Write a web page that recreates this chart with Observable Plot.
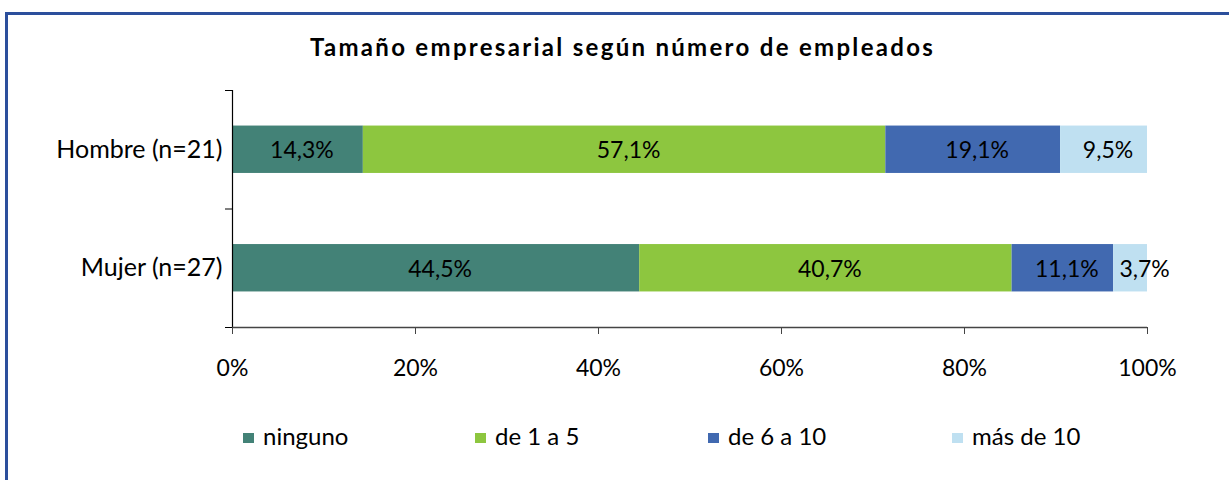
<!DOCTYPE html>
<html>
<head>
<meta charset="utf-8">
<script src="https://cdn.jsdelivr.net/npm/d3@7"></script>
<script src="https://cdn.jsdelivr.net/npm/@observablehq/plot@0.6"></script>
<style>
  html, body { margin: 0; padding: 0; background: #fff; }
  #wrap { position: relative; width: 1229px; height: 480px; overflow: hidden; font-family: Lato, "Noto Sans", sans-serif; color: #000; }
  #frame { position: absolute; left: 5px; top: 12px; width: 1240px; height: 520px; border: 3px solid #2c4f9c; box-sizing: border-box; }
  #title { position: absolute; left: 0; top: 32px; width: 1245px; text-align: center; font-weight: 700; font-size: 24px; letter-spacing: 2.3px; white-space: nowrap; }
  #chart { position: absolute; left: 0; top: 0; }
  .item { position: absolute; top: 423px; font-size: 24px; line-height: 26px; white-space: nowrap; }
  .sw { position: absolute; left: 0; top: 10px; width: 11px; height: 10px; }
  .lab { position: absolute; left: 20px; top: 0; }
</style>
</head>
<body>
<div id="wrap">
  <div id="frame"></div>
  <div id="title"></div>
  <div id="chart"></div>
  <div id="legend"></div>
</div>
<script>
const titleText = "Tamaño empresarial según número de empleados";
const groups = ["Hombre (n=21)", "Mujer (n=27)"];
const categories = ["ninguno", "de 1 a 5", "de 6 a 10", "más de 10"];
const hombre = [14.3, 57.1, 19.1, 9.5];
const mujer = [44.5, 40.7, 11.1, 3.7];
const colors = ["#438277", "#8dc63f", "#4169b0", "#bfe0f1"];
const xTicks = [0, 20, 40, 60, 80, 100];

const series = [hombre, mujer];
const rows = [];
series.forEach((vals, gi) => {
  let acc = 0;
  vals.forEach((v, ci) => {
    rows.push({
      gi, group: groups[gi], cat: categories[ci], value: v,
      x1: acc, x2: acc + v,
      label: v.toFixed(1).replace(".", ",") + "%"
    });
    acc += v;
  });
});

const fmtPct = d => d + "%";

const chart = Plot.plot({
  width: 1229,
  height: 480,
  marginLeft: 232,
  marginRight: 82,
  marginTop: 90,
  marginBottom: 153,
  style: { fontFamily: "Lato, 'Noto Sans', sans-serif", fontSize: "23px", color: "#000", background: "transparent" },
  x: { domain: [0, 100] },
  y: { domain: [0, 2], reverse: true },
  color: { domain: categories, range: colors },
  marks: [
    Plot.rect(rows, {
      x1: "x1", x2: "x2",
      y1: d => d.gi + 0.3, y2: d => d.gi + 0.7,
      fill: "cat"
    }),
    Plot.text(rows.filter(d => d.value >= 5), {
      x: d => (d.x1 + d.x2) / 2, y: d => d.gi + 0.5,
      text: "label", fill: "#000", fontSize: 23, dx: 4, dy: 1
    }),
    Plot.text(rows.filter(d => d.value < 5), {
      x: d => (d.x1 + d.x2) / 2, y: d => d.gi + 0.5,
      text: "label", fill: "#000", fontSize: 23, dx: 14, dy: 1
    }),
    Plot.ruleX([0], { stroke: "#000", strokeWidth: 1.2 }),
    Plot.ruleY([2], { stroke: "#444", strokeWidth: 1.5 }),
    Plot.axisX({ ticks: xTicks, tickFormat: fmtPct, tickSize: 7, tickPadding: 25, fontSize: 23, stroke: "#444", label: null }),
    Plot.axisY({ ticks: [0, 1, 2], tickSize: 7, tickFormat: () => "", stroke: "#000", label: null }),
    Plot.axisY({ ticks: [0.5, 1.5], tickSize: 0, tickPadding: 10, fontSize: 25, tickFormat: d => groups[Math.floor(d)], label: null })
  ]
});
document.getElementById("chart").appendChild(chart);

document.getElementById("title").textContent = titleText;
const legendLefts = [243, 475, 708, 952];
const legend = document.getElementById("legend");
categories.forEach((c, i) => {
  const item = document.createElement("div");
  item.className = "item";
  item.style.left = legendLefts[i] + "px";
  const sw = document.createElement("div");
  sw.className = "sw";
  sw.style.background = colors[i];
  const lab = document.createElement("div");
  lab.className = "lab";
  lab.textContent = c;
  item.appendChild(sw);
  item.appendChild(lab);
  legend.appendChild(item);
});
</script>
</body>
</html>
